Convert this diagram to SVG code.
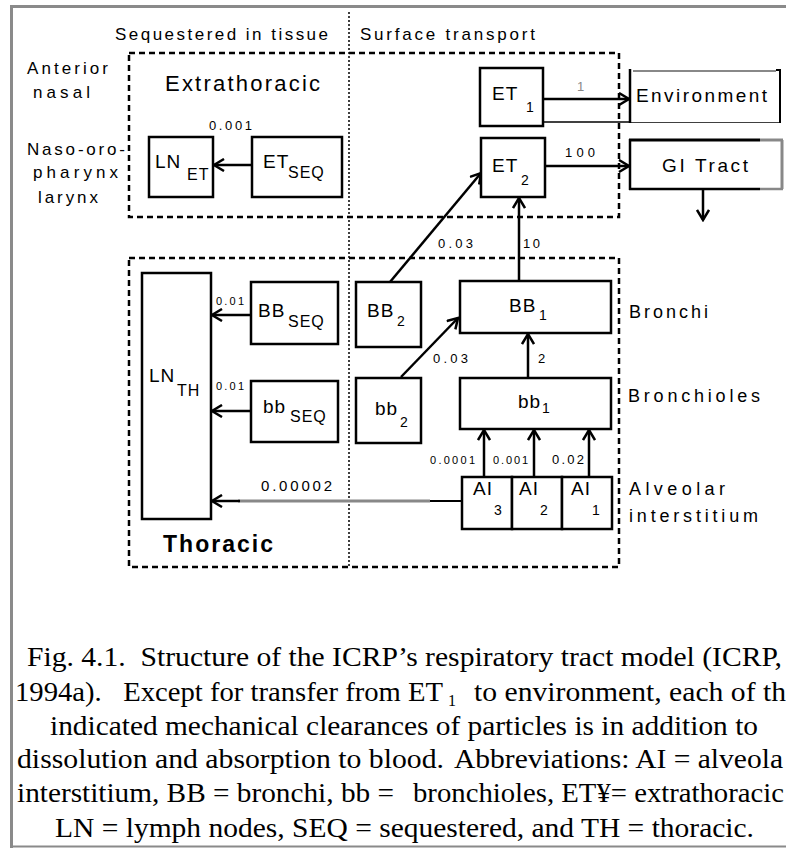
<svg xmlns="http://www.w3.org/2000/svg" width="786" height="850" viewBox="0 0 786 850">
<defs>
<marker id="ah" markerUnits="userSpaceOnUse" markerWidth="14" markerHeight="14" refX="12" refY="7" orient="auto">
<path d="M2,1 L12,7 L2,13" fill="none" stroke="#000" stroke-width="2.5"/>
</marker>
</defs>
<style>
.s{font-family:"Liberation Sans",Arial,sans-serif;fill:#000}
.m{font-family:"Liberation Sans",Arial,sans-serif;fill:#000;font-size:19px;letter-spacing:1px}
.u{font-family:"Liberation Sans",Arial,sans-serif;fill:#000;font-size:14px}
.q{font-family:"Liberation Sans",Arial,sans-serif;fill:#000;font-size:16px;letter-spacing:1px}
.c{font-family:"Liberation Serif","Times New Roman",serif;font-size:28px;fill:#000}
.box{fill:#fff;stroke:#000;stroke-width:2.5}
.dash{fill:none;stroke:#000;stroke-width:2.5;stroke-dasharray:6 4}
.arr{stroke:#000;stroke-width:2.5;fill:none;marker-end:url(#ah)}
</style>
<rect width="786" height="850" fill="#fff"/>
<g id="frame">
<line x1="10" y1="6.5" x2="786" y2="6.5" stroke="#8a8a8a" stroke-width="3"/>
<line x1="11.5" y1="5" x2="11.5" y2="848" stroke="#8a8a8a" stroke-width="3"/>
<line x1="10" y1="846.5" x2="786" y2="846.5" stroke="#8a8a8a" stroke-width="2"/>
</g>
<g id="regions">
<rect class="dash" x="129" y="53" width="490" height="164"/>
<rect class="dash" x="129" y="258" width="490" height="309"/>
<line x1="349" y1="12" x2="349" y2="568" stroke="#000" stroke-width="1.5" stroke-dasharray="2 2"/>
</g>
<g id="labels" class="s">
<text x="115" y="40" font-size="17" textLength="213" lengthAdjust="spacing">Sequestered in tissue</text>
<text x="360" y="40" font-size="17" textLength="175" lengthAdjust="spacing">Surface transport</text>
<text x="27" y="74" font-size="17" textLength="81" lengthAdjust="spacing">Anterior</text>
<text x="33" y="98" font-size="17" textLength="57" lengthAdjust="spacing">nasal</text>
<text x="27" y="155" font-size="17" textLength="98" lengthAdjust="spacing">Naso-oro-</text>
<text x="33" y="178" font-size="17" textLength="85" lengthAdjust="spacing">pharynx</text>
<text x="38" y="203" font-size="17" textLength="60" lengthAdjust="spacing">larynx</text>
<text x="165" y="91" font-size="22" textLength="155" lengthAdjust="spacing">Extrathoracic</text>
<text x="163" y="552" font-size="23" font-weight="bold" textLength="110" lengthAdjust="spacing">Thoracic</text>
<text x="629" y="318" font-size="18" textLength="79" lengthAdjust="spacing">Bronchi</text>
<text x="628" y="402" font-size="18" textLength="132" lengthAdjust="spacing">Bronchioles</text>
<text x="629" y="495" font-size="18" textLength="96" lengthAdjust="spacing">Alveolar</text>
<text x="629" y="522" font-size="18" textLength="129" lengthAdjust="spacing">interstitium</text>
</g>
<g id="connectors">
<line class="arr" x1="252" y1="165" x2="214" y2="165"/>
<line class="arr" x1="543" y1="99" x2="629" y2="99"/>
<line class="arr" x1="545" y1="166" x2="629" y2="166"/>
<line class="arr" x1="703" y1="190" x2="703" y2="220"/>
<line class="arr" x1="390" y1="282" x2="481" y2="173"/>
<line class="arr" x1="519" y1="281" x2="519" y2="198"/>
<line class="arr" x1="251" y1="315" x2="212" y2="315"/>
<line class="arr" x1="251" y1="411" x2="212" y2="411"/>
<line class="arr" x1="401" y1="377" x2="458" y2="318"/>
<line class="arr" x1="528" y1="378" x2="528" y2="334"/>
<line class="arr" x1="484" y1="477" x2="484" y2="430"/>
<line class="arr" x1="534" y1="477" x2="534" y2="430"/>
<line class="arr" x1="589" y1="477" x2="589" y2="430"/>
<line x1="462" y1="501" x2="428" y2="501" stroke="#000" stroke-width="2"/>
<line x1="430" y1="501" x2="238" y2="501" stroke="#888" stroke-width="3"/>
<line class="arr" x1="240" y1="501" x2="212" y2="501"/>
<line x1="480" y1="122" x2="780" y2="122" stroke="#000" stroke-width="1.5"/>
<g class="s" font-size="13">
<text x="209" y="130" textLength="43" lengthAdjust="spacing">0.001</text>
<text x="577" y="91" fill="#888">1</text>
<text x="565" y="157" textLength="30" lengthAdjust="spacing">100</text>
<text x="438" y="248" textLength="35" lengthAdjust="spacing">0.03</text>
<text x="523" y="248" textLength="17" lengthAdjust="spacing">10</text>
<text x="433" y="363" textLength="35" lengthAdjust="spacing">0.03</text>
<text x="538" y="363">2</text>
<text x="216" y="305" font-size="11" textLength="28" lengthAdjust="spacing">0.01</text>
<text x="216" y="390" font-size="11" textLength="28" lengthAdjust="spacing">0.01</text>
<text x="261" y="491" font-size="15" textLength="71" lengthAdjust="spacing">0.00002</text>
<text x="430" y="464" font-size="11" textLength="45" lengthAdjust="spacing">0.0001</text>
<text x="493" y="464" font-size="11" textLength="35" lengthAdjust="spacing">0.001</text>
<text x="552" y="464" font-size="13" textLength="32" lengthAdjust="spacing">0.02</text>
</g>
</g>
<g id="LN_ET">
<rect class="box" x="149" y="137" width="64" height="60"/>
<text class="m" x="155" y="168" font-size="20">LN</text>
<text class="q" x="187" y="180" font-size="15">ET</text>
</g>
<g id="ET_SEQ">
<rect class="box" x="252" y="137" width="90" height="60"/>
<text class="m" x="263" y="168">ET</text>
<text class="q" x="288" y="178">SEQ</text>
</g>
<g id="ET1">
<rect class="box" x="480" y="68" width="63" height="58"/>
<text class="m" x="492" y="100">ET</text>
<text class="u" x="526" y="112">1</text>
</g>
<g id="ET2">
<rect class="box" x="481" y="138" width="64" height="59"/>
<text class="m" x="492" y="172">ET</text>
<text class="u" x="521" y="185">2</text>
</g>
<g id="Environment">
<rect x="630" y="70" width="150" height="52" fill="#fff"/>
<line x1="633" y1="71" x2="776" y2="71" stroke="#888" stroke-width="2"/>
<line x1="630" y1="69" x2="630" y2="123" stroke="#000" stroke-width="2.5"/>
<line x1="780" y1="70" x2="780" y2="123" stroke="#000" stroke-width="2"/>
<line x1="776" y1="70" x2="781" y2="70" stroke="#000" stroke-width="2"/>
<text class="s" x="636" y="102" font-size="19" textLength="131" lengthAdjust="spacing">Environment</text>
</g>
<g id="GI_Tract">
<rect x="630" y="140" width="152" height="49" fill="#fff"/>
<line x1="629" y1="140" x2="760" y2="140" stroke="#000" stroke-width="3"/>
<line x1="760" y1="140" x2="783" y2="140" stroke="#888" stroke-width="3"/>
<line x1="782" y1="140" x2="782" y2="189" stroke="#888" stroke-width="3"/>
<line x1="629" y1="189" x2="760" y2="189" stroke="#000" stroke-width="2.5"/>
<line x1="760" y1="189" x2="783" y2="189" stroke="#888" stroke-width="2.5"/>
<line x1="630" y1="139" x2="630" y2="190" stroke="#000" stroke-width="2.5"/>
<text class="s" x="662" y="172" font-size="19" textLength="86" lengthAdjust="spacing">GI Tract</text>
</g>
<g id="LN_TH">
<rect class="box" x="142" y="273" width="69" height="246"/>
<text class="m" x="149" y="382" font-size="20">LN</text>
<text class="q" x="177" y="396" font-size="15">TH</text>
</g>
<g id="BB_SEQ">
<rect class="box" x="251" y="282" width="87" height="62"/>
<text class="m" x="258" y="317">BB</text>
<text class="q" x="288" y="327">SEQ</text>
</g>
<g id="bb_SEQ">
<rect class="box" x="251" y="381" width="87" height="61"/>
<text class="m" x="263" y="413">bb</text>
<text class="q" x="290" y="422">SEQ</text>
</g>
<g id="BB2">
<rect class="box" x="356" y="282" width="65" height="65"/>
<text class="m" x="367" y="317">BB</text>
<text class="u" x="397" y="326">2</text>
</g>
<g id="bb2">
<rect class="box" x="356" y="378" width="65" height="65"/>
<text class="m" x="375" y="415">bb</text>
<text class="u" x="400" y="427">2</text>
</g>
<g id="BB1">
<rect class="box" x="460" y="281" width="151" height="52"/>
<text class="m" x="509" y="312">BB</text>
<text class="u" x="539" y="320">1</text>
</g>
<g id="bb1">
<rect class="box" x="460" y="378" width="151" height="51"/>
<text class="m" x="518" y="408">bb</text>
<text class="u" x="542" y="413">1</text>
</g>
<g id="AI3">
<rect class="box" x="462" y="477" width="50" height="52"/>
<text class="m" x="473" y="495" font-size="18">AI</text>
<text class="u" x="494" y="515">3</text>
</g>
<g id="AI2">
<rect class="box" x="512" y="477" width="50" height="52"/>
<text class="m" x="519" y="495" font-size="18">AI</text>
<text class="u" x="540" y="515">2</text>
</g>
<g id="AI1">
<rect class="box" x="562" y="477" width="50" height="52"/>
<text class="m" x="571" y="495" font-size="18">AI</text>
<text class="u" x="592" y="515">1</text>
</g>
<g id="caption" class="c">
<text x="27" y="666" textLength="755" lengthAdjust="spacingAndGlyphs">Fig. 4.1.&#160; Structure of the ICRP’s respiratory tract model (ICRP,</text>
<text x="15" y="701" textLength="428" lengthAdjust="spacingAndGlyphs">1994a).&#160;&#160; Except for transfer from ET</text>
<text x="448" y="706" font-size="16">1</text>
<text x="474" y="701" textLength="312" lengthAdjust="spacingAndGlyphs">to environment, each of th</text>
<text x="50" y="735" textLength="708" lengthAdjust="spacingAndGlyphs">indicated mechanical clearances of particles is in addition to</text>
<text x="17" y="768" textLength="427" lengthAdjust="spacingAndGlyphs">dissolution and absorption to blood.</text>
<text x="454" y="768" textLength="329" lengthAdjust="spacingAndGlyphs">Abbreviations: AI = alveola</text>
<text x="17" y="802" textLength="377" lengthAdjust="spacingAndGlyphs">interstitium, BB = bronchi, bb =</text>
<text x="413" y="802" textLength="371" lengthAdjust="spacingAndGlyphs">bronchioles, ET¥= extrathoracic</text>
<text x="55" y="837" textLength="699" lengthAdjust="spacingAndGlyphs">LN = lymph nodes, SEQ = sequestered, and TH = thoracic.</text>
</g>
</svg>
